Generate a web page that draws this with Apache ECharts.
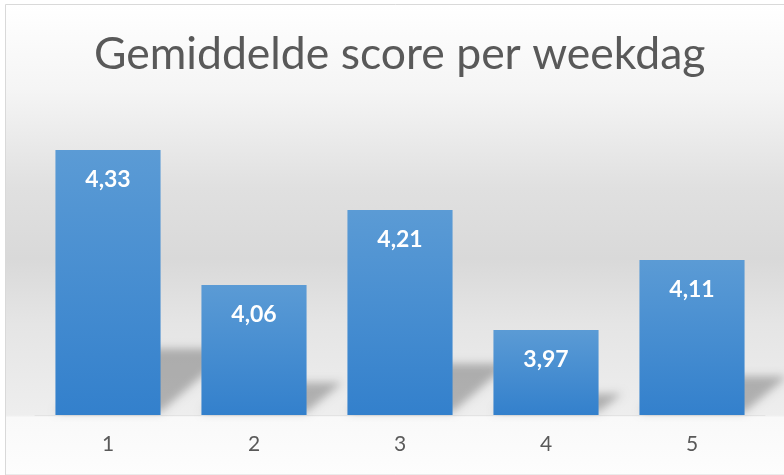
<!DOCTYPE html>
<html>
<head>
<meta charset="utf-8">
<script src="https://cdn.jsdelivr.net/npm/echarts@6/dist/echarts.min.js"></script>
<style>
  html, body { margin: 0; padding: 0; background: #fff; }
  #chart { width: 784px; height: 475px; }
</style>
</head>
<body>
<div id="chart"></div>
<script>
  // weekdagen en gemiddelde scores
  const weekdays = ['1', '2', '3', '4', '5'];
  const scores = [4.33, 4.06, 4.21, 3.97, 4.11];
  const axisMin = 3.8;
  const axisMax = 4.4;

  const chart = echarts.init(document.getElementById('chart'));

  // schaduw achter elke balk, schuin naar rechts op de "vloer".
  // De vorm zelf staat buiten beeld, alleen de vage canvas-schaduw valt terug op de plek.
  const SHIFT = 1500;
  function renderShadow(params, api) {
    const top = api.coord([api.value(0), api.value(1)]);
    const base = api.coord([api.value(0), axisMin]);
    const w = api.size([1, 0])[0] * 0.72;
    const xl = base[0] - w / 2 - SHIFT;
    const xr = base[0] + w / 2 - SHIFT;
    const h = base[1] - top[1];
    const dy = h * 0.25;
    const dx = dy * 1.1;
    return {
      type: 'polygon',
      shape: {
        points: [[xl, base[1] - 3], [xr, base[1] - 3], [xr + dx, base[1] - dy], [xl + dx, base[1] - dy]]
      },
      style: {
        fill: '#000',
        shadowBlur: 9,
        shadowOffsetX: SHIFT,
        shadowColor: 'rgba(0,0,0,0.26)'
      }
    };
  }

  chart.setOption({
    backgroundColor: '#fff',
    animation: false,
    graphic: [{
      type: 'rect',
      z: -10,
      silent: true,
      shape: {x: 5.5, y: 4.5, width: 790, height: 470.5},
      style: {
        stroke: '#d9d9d9',
        lineWidth: 1,
        fill: {
          type: 'linear', x: 0, y: 0, x2: 0, y2: 1,
          colorStops: [
            {offset: 0, color: '#ffffff'},
            {offset: 0.18, color: '#f5f5f5'},
            {offset: 0.39, color: '#e0e0e0'},
            {offset: 0.54, color: '#d9d9d9'},
            {offset: 0.68, color: '#e5e5e5'},
            {offset: 0.872, color: '#eeeeee'},
            {offset: 0.877, color: '#f9f9f9'},
            {offset: 1, color: '#fdfdfd'}
          ]
        }
      }
    }],
    title: {
      text: 'Gemiddelde score per weekdag',
      left: 94,
      top: 32,
      padding: 0,
      textStyle: {
        fontFamily: 'Lato',
        fontSize: 44.5,
        fontWeight: 'normal',
        color: '#595959'
      }
    },
    grid: {
      left: 35,
      right: 19,
      top: 115,
      bottom: 60
    },
    xAxis: {
      type: 'category',
      data: weekdays,
      axisTick: {show: false},
      axisLine: {lineStyle: {color: '#e3e3e3', width: 1}},
      axisLabel: {
        margin: 19,
        fontFamily: 'Lato',
        fontSize: 21,
        color: '#595959'
      }
    },
    yAxis: {
      type: 'value',
      min: axisMin,
      max: axisMax,
      show: false,
      splitLine: {show: false}
    },
    series: [{
      type: 'custom',
      renderItem: renderShadow,
      data: weekdays.map((d, i) => [i, scores[i]]),
      clip: false,
      z: 1,
      silent: true
    }, {
      type: 'bar',
      data: scores,
      barWidth: '72%',
      z: 2,
      itemStyle: {
        color: {
          type: 'linear', x: 0, y: 0, x2: 0, y2: 1,
          colorStops: [
            {offset: 0, color: '#5b9bd5'},
            {offset: 1, color: '#3380cc'}
          ]
        }
      },
      label: {
        show: true,
        position: 'insideTop',
        distance: 18,
        fontFamily: 'Lato',
        fontSize: 23,
        fontWeight: 'bold',
        color: '#ffffff',
        formatter: p => p.value.toFixed(2).replace('.', ',')
      }
    }]
  });
</script>
</body>
</html>
